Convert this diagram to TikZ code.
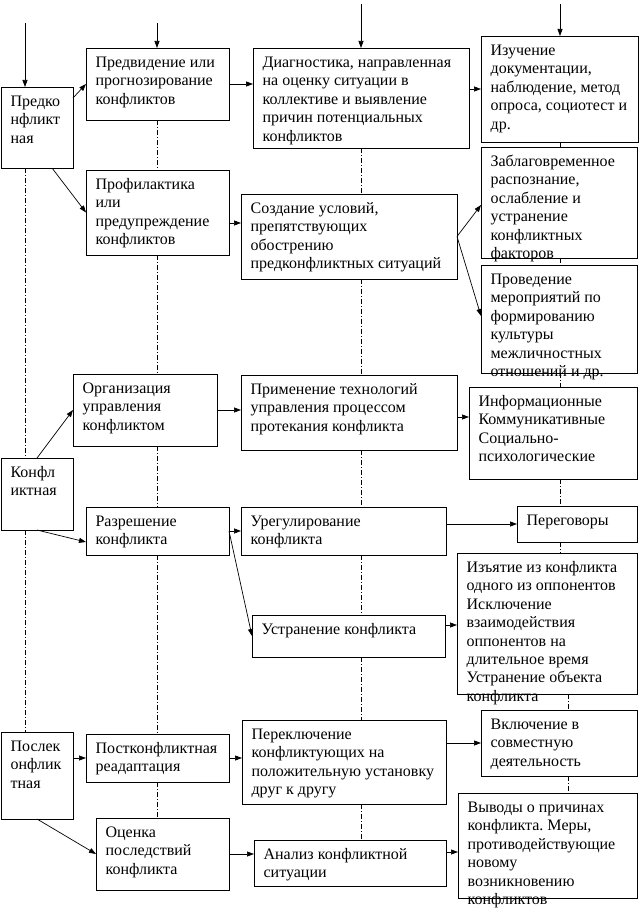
\documentclass[tikz,border=0pt]{standalone}
\usepackage{fontspec}
\setmainfont{Liberation Serif}
\usetikzlibrary{arrows.meta,calc}
\frenchspacing
\tikzset{
  box/.style={draw, line width=0.8pt, inner sep=0pt, outer sep=0pt},
  txt/.style={inner sep=0pt, outer sep=0pt, align=left, font={\fontsize{16}{18.4}\selectfont\frenchspacing}},
  arr/.style={line width=0.7pt, -{Triangle[length=7pt,width=5pt]}},
  dl/.style={line width=0.7pt, dash pattern=on 5pt off 2pt on 1pt off 2pt},
}
\newcommand\bx[6]{%
  \node[box, minimum width={#4-#2}, minimum height={#5-#3}, anchor=north west] (#1) at (#2,#3) {};
  \node[txt, anchor=north west] (#1t) at ({#2+9.6},{#3+5.5}) {\rule{0pt}{14pt}#6};
}
\begin{document}
\begin{tikzpicture}[x=1pt,y=-1pt]
\useasboundingbox (0,0) rectangle (639,915);
% column 1
\bx{pre}{1}{87}{73}{168}{Предко\\нфликт\\ная}
\bx{kon}{1}{458}{73}{530}{Конфл\\иктная}
\bx{post}{1}{732}{73}{819}{Послек\\онфлик\\тная}
% column 2
\bx{predv}{86}{48}{229}{120}{Предвидение или\\прогнозирование\\конфликтов}
\bx{prof}{86}{170}{229}{255}{Профилактика\\или\\предупреждение\\конфликтов}
\bx{org}{73}{374}{217}{446}{Организация\\управления\\конфликтом}
\bx{razr}{86}{507}{229}{555}{Разрешение\\конфликта}
\bx{postk}{86}{734}{229}{782}{Постконфликтная\\реадаптация}
\bx{ocen}{96}{818}{229}{890}{Оценка\\последствий\\конфликта}
% column 3
\bx{diag}{253}{48}{469}{148}{Диагностика, направленная\\на оценку ситуации в\\коллективе и выявление\\причин потенциальных\\конфликтов}
\bx{sozd}{241}{194}{457}{279}{Создание условий,\\препятствующих\\обострению\\предконфликтных ситуаций}
\bx{prim}{241}{375}{457}{450}{Применение технологий\\управления процессом\\протекания конфликта}
\bx{uregul}{241}{507}{446}{555}{Урегулирование\\конфликта}
\bx{ustr}{252}{615}{445}{657}{Устранение конфликта}
\bx{perekl}{242}{720}{446}{804}{Переключение\\конфликтующих на\\положительную установку\\друг к другу}
\bx{anal}{254}{840}{446}{886}{Анализ конфликтной\\ситуации}
% column 4
\bx{izuch}{481}{36}{638}{142}{Изучение\\документации,\\наблюдение, метод\\опроса, социотест и\\др.}
\bx{zabl}{481}{147}{637}{258}{Заблаговременное\\распознание,\\ослабление и\\устранение\\конфликтных\\факторов}
\bx{prov}{481}{265}{637}{373}{Проведение\\мероприятий по\\формированию\\культуры\\межличностных\\отношений и др.}
\bx{inform}{469}{387}{637}{479}{Информационные\\Коммуникативные\\Социально-\\психологические}
\bx{perego}{517}{506}{637}{542}{Переговоры}
\bx{izyat}{457}{553}{637}{694}{Изъятие из конфликта\\одного из оппонентов\\Исключение\\взаимодействия\\оппонентов на\\длительное время\\Устранение объекта\\конфликта}
\bx{vkl}{481}{710}{637}{776}{Включение в\\совместную\\деятельность}
\bx{vyv}{458}{793}{637}{898}{Выводы о причинах\\конфликта. Меры,\\противодействующие\\новому\\возникновению\\конфликтов}
% incoming arrows
\coordinate (in1) at (25,23);
\coordinate (in2) at (157,23);
\coordinate (in3) at (361,4);
\coordinate (in4) at (560,4);
\draw[arr] (in1) -- (in1 |- pre.north);
\draw[arr] (in2) -- (in2 |- predv.north);
\draw[arr] (in3) -- (in3 |- diag.north);
\draw[arr] (in4) -- (in4 |- izuch.north);
% dashed column lines
\coordinate (d1) at (25,0);
\coordinate (d2) at (157,0);
\coordinate (d3) at (361,0);
\coordinate (d4) at (560,0);
\coordinate (d5) at (568,0);
\draw[dl] (pre.south -| d1) -- (kon.north -| d1);
\draw[dl] (kon.south -| d1) -- (post.north -| d1);
\draw[dl] (predv.south -| d2) -- (prof.north -| d2);
\draw[dl] (prof.south -| d2) -- (org.north -| d2);
\draw[dl] (org.south -| d2) -- (razr.north -| d2);
\draw[dl] (razr.south -| d2) -- (postk.north -| d2);
\draw[dl] (postk.south -| d2) -- (ocen.north -| d2);
\draw[dl] (diag.south -| d3) -- (sozd.north -| d3);
\draw[dl] (sozd.south -| d3) -- (prim.north -| d3);
\draw[dl] (prim.south -| d3) -- (uregul.north -| d3);
\draw[dl] (uregul.south -| d3) -- (ustr.north -| d3);
\draw[dl] (ustr.south -| d3) -- (perekl.north -| d3);
\draw[dl] (perekl.south -| d3) -- (anal.north -| d3);
\draw[dl] (izuch.south -| d4) -- (zabl.north -| d4);
\draw[dl] (zabl.south -| d4) -- (prov.north -| d4);
\draw[dl] (prov.south -| d4) -- (inform.north -| d4);
\draw[dl] (inform.south -| d4) -- (perego.north -| d4);
\draw[dl] (perego.south -| d4) -- (izyat.north -| d4);
\draw[dl] (izyat.south -| d5) -- (vkl.north -| d5);
\draw[dl] (vkl.south -| d5) -- (vyv.north -| d5);
% connectors
\draw[arr] ($(pre.north east)+(0,11)$) -- (predv.west);
\draw[arr] ($(pre.south west)+(51,0)$) -- (prof.west);
\draw[arr] (predv.east) -- (predv.east -| diag.west);
\draw[arr] ($(prof.north east)+(0,53)$) coordinate (p1) -- (p1 -| sozd.west);
\draw[arr] (diag.east |- izuch.west) -- (izuch.west);
\draw[arr] (sozd.east) -- ($(zabl.north west)+(0,58)$);
\draw[arr] (sozd.east) -- ($(prov.north west)+(0,51)$);
\draw[arr] (kon.north) -- (org.west);
\draw[arr] (kon.south) -- ($(razr.north west)+(0,35)$);
\draw[arr] (org.east) -- (org.east -| prim.west);
\draw[arr] ($(prim.north east)+(0,42)$) coordinate (p2) -- (p2 -| inform.west);
\draw[arr] (razr.east) -- (razr.east -| uregul.west);
\draw[arr] (uregul.east |- perego.west) -- (perego.west);
\draw[arr] (razr.east) -- (ustr.west);
\draw[arr] ($(ustr.north east)+(0,10)$) coordinate (p3) -- (p3 -| izyat.west);
\draw[arr] (post.east |- postk.west) -- (postk.west);
\draw[arr] (postk.east) -- (postk.east -| perekl.west);
\draw[arr] (perekl.east |- vkl.west) -- (vkl.west);
\draw[arr] (post.south) -- (ocen.west);
\draw[arr] (ocen.east) -- (ocen.east -| anal.west);
\draw[arr] ($(anal.north east)+(0,12)$) coordinate (p4) -- (p4 -| vyv.west);
\end{tikzpicture}
\end{document}
